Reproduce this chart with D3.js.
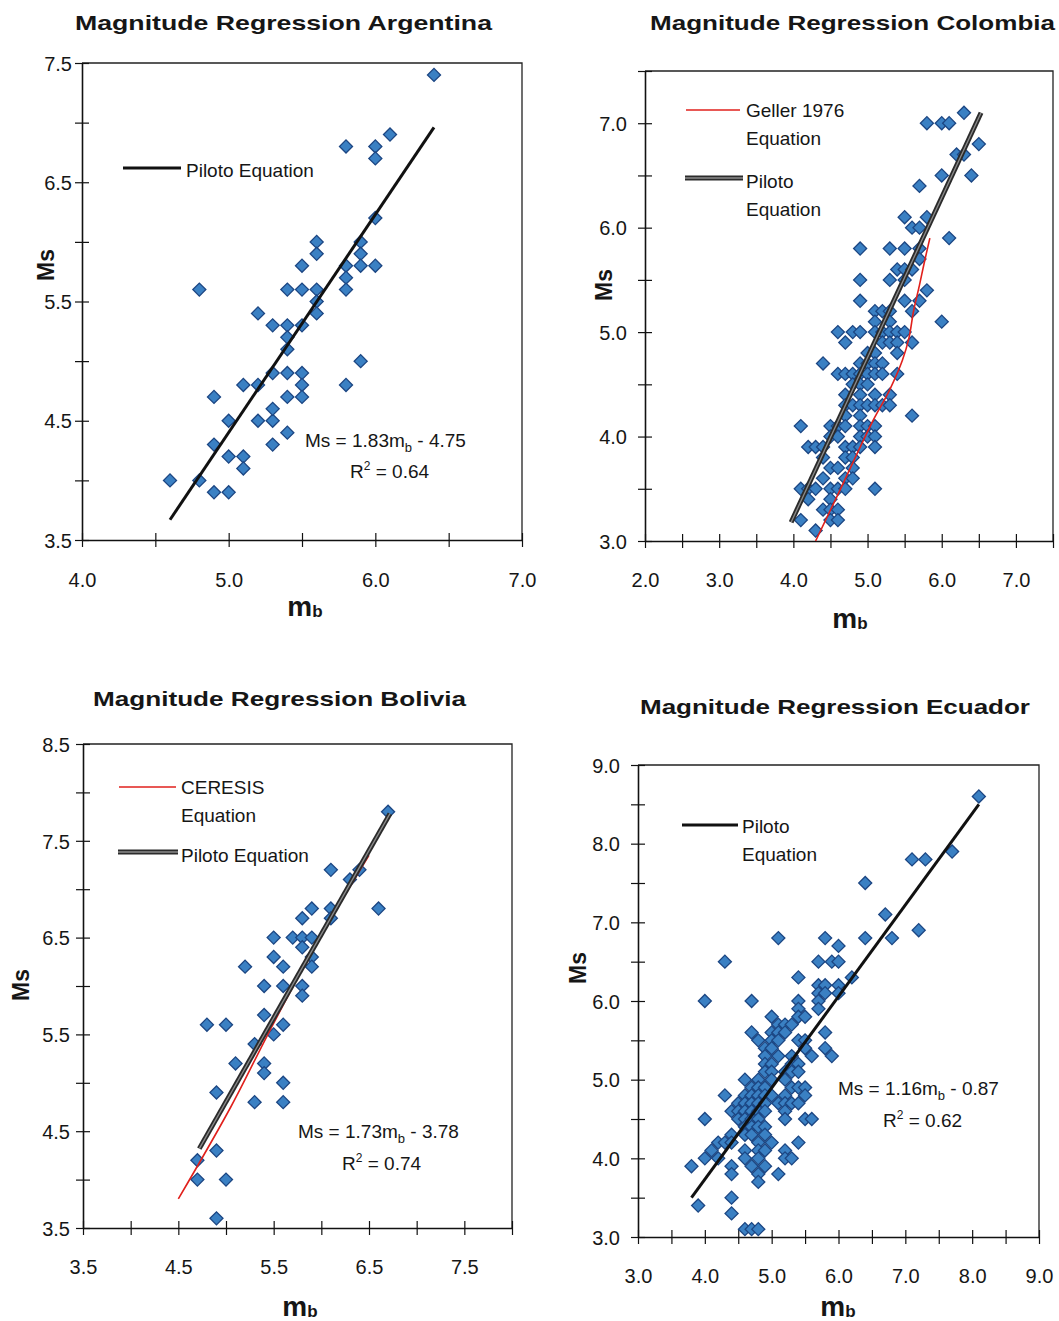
<!DOCTYPE html>
<html>
<head>
<meta charset="utf-8">
<script src="https://cdn.jsdelivr.net/npm/d3@7"></script>
<style>
  body { margin: 0; background: #fff; }
  svg { display: block; }
  text { font-family: "Liberation Sans", Arial, sans-serif; fill: #161616; }
</style>
</head>
<body>
<svg id="chart" width="1059" height="1321"></svg>
<script>
// ---- data (mb, Ms) ----
const argentinaPoints = [
  [6.4,7.4],[6.1,6.9],[5.8,6.8],[6.0,6.8],[6.0,6.7],[6.0,6.2],[5.6,6.0],[5.6,5.9],
  [5.9,6.0],[5.9,5.9],[5.9,5.8],[6.0,5.8],[5.8,5.8],[5.8,5.7],[5.8,5.6],[5.5,5.8],
  [5.4,5.6],[5.5,5.6],[5.6,5.6],[5.6,5.5],[5.6,5.4],[4.8,5.6],[5.2,5.4],[5.3,5.3],
  [5.4,5.3],[5.5,5.3],[5.4,5.2],[5.4,5.1],[5.9,5.0],[5.3,4.9],[5.4,4.9],[5.5,4.9],
  [5.5,4.8],[5.5,4.7],[5.4,4.7],[5.8,4.8],[5.1,4.8],[5.2,4.8],[4.9,4.7],[5.0,4.5],
  [5.2,4.5],[5.3,4.5],[5.3,4.6],[5.4,4.4],[5.3,4.3],[4.9,4.3],[5.0,4.2],[5.1,4.2],
  [5.1,4.1],[4.6,4.0],[4.8,4.0],[4.9,3.9],[5.0,3.9]
];
const argentinaPiloto = [[4.6,3.67],[6.4,6.96]];

const colombiaPoints = [
  [6.3,7.1],[5.8,7.0],[6.0,7.0],[6.1,7.0],[6.5,6.8],[6.2,6.7],[6.3,6.7],[6.0,6.5],
  [6.4,6.5],[5.7,6.4],[5.5,6.1],[5.8,6.1],[5.6,6.0],[5.7,6.0],[6.1,5.9],[4.9,5.8],
  [5.3,5.8],[5.5,5.8],[5.7,5.8],[5.7,5.7],[5.4,5.6],[5.5,5.6],[5.6,5.6],[4.9,5.5],
  [5.3,5.5],[5.5,5.5],[5.8,5.4],[5.7,5.3],[4.9,5.3],[5.5,5.3],[5.6,5.2],[5.1,5.2],
  [5.2,5.2],[5.3,5.2],[6.0,5.1],[5.1,5.1],[5.3,5.1],[4.6,5.0],[4.8,5.0],[4.9,5.0],
  [5.1,5.0],[5.2,5.0],[5.3,5.0],[5.4,5.0],[5.5,5.0],[4.7,4.9],[5.2,4.9],[5.3,4.9],
  [5.4,4.9],[5.6,4.9],[5.0,4.8],[5.1,4.8],[5.4,4.8],[4.4,4.7],[4.9,4.7],[5.0,4.7],
  [5.1,4.7],[5.2,4.7],[4.6,4.6],[4.7,4.6],[4.8,4.6],[4.9,4.6],[5.0,4.6],[5.1,4.6],
  [5.2,4.6],[5.4,4.6],[4.8,4.5],[4.9,4.5],[5.0,4.5],[4.7,4.4],[4.9,4.4],[5.1,4.4],
  [5.3,4.4],[4.7,4.3],[4.8,4.3],[4.9,4.3],[5.0,4.3],[5.1,4.3],[5.2,4.3],[5.3,4.3],
  [5.6,4.2],[4.7,4.2],[4.9,4.2],[4.1,4.1],[4.5,4.1],[4.6,4.1],[4.7,4.1],[4.9,4.1],
  [5.0,4.1],[5.1,4.1],[4.5,4.0],[4.6,4.0],[4.9,4.0],[5.0,4.0],[5.1,4.0],[4.2,3.9],
  [4.3,3.9],[4.4,3.9],[4.7,3.9],[4.8,3.9],[4.9,3.9],[5.1,3.9],[4.4,3.8],[4.7,3.8],
  [4.8,3.8],[4.5,3.7],[4.6,3.7],[4.8,3.7],[4.4,3.6],[4.7,3.6],[4.8,3.6],[4.1,3.5],
  [4.2,3.5],[4.3,3.5],[4.5,3.5],[4.6,3.5],[4.7,3.5],[5.1,3.5],[4.2,3.4],[4.5,3.4],
  [4.4,3.3],[4.5,3.3],[4.6,3.3],[4.1,3.2],[4.5,3.2],[4.6,3.2],[4.3,3.1]
];
const colombiaPiloto = [[3.97,3.18],[6.53,7.1]];
const colombiaGeller = [
  [4.3,3.0],[4.67,3.55],[5.05,4.12],[5.3,4.45],[5.47,4.73],[5.56,4.95],
  [5.62,5.2],[5.7,5.45],[5.76,5.65],[5.84,5.9]
];

const boliviaPoints = [
  [6.7,7.8],[6.1,7.2],[6.3,7.1],[6.4,7.2],[6.6,6.8],[5.9,6.8],[6.1,6.8],[6.1,6.7],
  [5.8,6.7],[5.5,6.5],[5.7,6.5],[5.8,6.5],[5.9,6.5],[5.8,6.4],[5.5,6.3],[5.9,6.3],
  [5.6,6.2],[5.9,6.2],[5.2,6.2],[5.4,6.0],[5.6,6.0],[5.8,6.0],[5.8,5.9],[5.4,5.7],
  [5.5,5.5],[5.6,5.6],[4.8,5.6],[5.0,5.6],[5.3,5.4],[5.1,5.2],[5.4,5.2],[5.4,5.1],
  [5.6,5.0],[4.9,4.9],[5.3,4.8],[5.6,4.8],[4.9,4.3],[4.7,4.2],[4.7,4.0],[5.0,4.0],
  [4.9,3.6]
];
const boliviaPiloto = [[4.72,4.32],[6.72,7.78]];
const boliviaCeresis = [[4.5,3.8],[5.05,4.75],[5.46,5.54],[5.95,6.44],[6.5,7.35]];

const ecuadorPoints = [
  [8.1,8.6],[7.7,7.9],[7.1,7.8],[7.3,7.8],[6.4,7.5],[6.7,7.1],[7.2,6.9],[5.1,6.8],
  [5.8,6.8],[6.4,6.8],[6.8,6.8],[6.0,6.7],[4.3,6.5],[5.7,6.5],[5.9,6.5],[6.0,6.5],
  [5.4,6.3],[6.2,6.3],[5.7,6.2],[5.8,6.2],[6.0,6.2],[5.7,6.1],[5.8,6.1],[6.0,6.1],
  [4.0,6.0],[4.7,6.0],[5.4,6.0],[5.7,6.0],[5.4,5.9],[5.7,5.9],[5.0,5.8],[5.4,5.8],
  [5.5,5.8],[5.1,5.7],[5.2,5.7],[5.3,5.7],[4.7,5.6],[5.0,5.6],[5.1,5.6],[5.2,5.6],
  [5.8,5.6],[4.8,5.5],[5.0,5.5],[5.1,5.5],[5.4,5.5],[5.5,5.5],[4.9,5.4],[5.0,5.4],
  [5.5,5.4],[5.8,5.4],[4.9,5.3],[5.1,5.3],[5.3,5.3],[5.6,5.3],[5.9,5.3],[4.9,5.2],
  [5.0,5.2],[5.3,5.2],[5.4,5.2],[4.9,5.1],[5.0,5.1],[5.2,5.1],[5.3,5.1],[5.4,5.1],
  [4.6,5.0],[4.8,5.0],[5.0,5.0],[5.2,5.0],[4.7,4.9],[4.8,4.9],[4.9,4.9],[5.3,4.9],
  [5.4,4.9],[5.5,4.9],[4.3,4.8],[4.6,4.8],[4.7,4.8],[4.8,4.8],[4.9,4.8],[5.0,4.8],
  [5.2,4.8],[5.5,4.8],[4.5,4.7],[4.6,4.7],[4.7,4.7],[4.8,4.7],[4.9,4.7],[5.1,4.7],
  [5.2,4.7],[5.3,4.7],[5.4,4.7],[4.4,4.6],[4.5,4.6],[4.6,4.6],[4.7,4.6],[4.8,4.6],
  [4.9,4.6],[5.2,4.6],[4.0,4.5],[4.5,4.5],[4.6,4.5],[4.7,4.5],[4.8,4.5],[5.2,4.5],
  [5.5,4.5],[5.6,4.5],[4.6,4.4],[4.7,4.4],[4.8,4.4],[4.9,4.4],[4.4,4.3],[4.6,4.3],
  [4.7,4.3],[4.9,4.3],[4.2,4.2],[4.3,4.2],[4.4,4.2],[4.8,4.2],[5.0,4.2],[5.4,4.2],
  [4.1,4.1],[4.6,4.1],[4.8,4.1],[4.9,4.1],[5.2,4.1],[4.0,4.0],[4.2,4.0],[4.6,4.0],
  [4.8,4.0],[5.2,4.0],[5.3,4.0],[3.8,3.9],[4.4,3.9],[4.7,3.9],[4.9,3.9],[4.4,3.8],
  [4.8,3.8],[5.1,3.8],[4.8,3.7],[4.4,3.5],[3.9,3.4],[4.4,3.3],[4.6,3.1],[4.7,3.1],
  [4.8,3.1]
];
const ecuadorPiloto = [[3.8,3.5],[8.1,8.5]];

// tick labels
const argentinaXLabels = [4, 5, 6, 7];
const argentinaYLabels = [3.5, 4.5, 5.5, 6.5, 7.5];
const colombiaXLabels = [2, 3, 4, 5, 6, 7];
const colombiaYLabels = [3, 4, 5, 6, 7];
const boliviaXLabels = [3.5, 4.5, 5.5, 6.5, 7.5];
const boliviaYLabels = [3.5, 4.5, 5.5, 6.5, 7.5, 8.5];
const ecuadorXLabels = [3, 4, 5, 6, 7, 8, 9];
const ecuadorYLabels = [3, 4, 5, 6, 7, 8, 9];

const svg = d3.select('#chart');
const fmt = d3.format('.1f');
const diamond = d3.symbol().type(d3.symbolSquare).size(85);

const panels = [
  {
    title: 'Magnitude Regression  Argentina', titleX: 75, titleW: 417, titleY: 30,
    left: 82, right: 522, top: 63, bottom: 540,
    xDomain: [4, 7], yDomain: [3.5, 7.5],
    xLabels: argentinaXLabels, yLabels: argentinaYLabels, yLabelGap: 10, xLabelY: 587,
    msPos: [46, 265], mbPos: [305, 616],
    points: argentinaPoints,
    lines: [{ pts: argentinaPiloto, style: 'black' }],
    legend: [{ x1: 123, x2: 181, y: 168, style: 'black', text: ['Piloto Equation'], tx: 186, ty: 177 }],
    eq: { x: 305, y: 447, a: 'Ms = 1.83m', b: '- 4.75', r: '0.64', rx: 350, ry: 478 }
  },
  {
    title: 'Magnitude Regression Colombia', titleX: 650, titleW: 405, titleY: 30,
    left: 645, right: 1053, top: 71, bottom: 541,
    xDomain: [2, 7.5], yDomain: [3, 7.5],
    xLabels: colombiaXLabels, yLabels: colombiaYLabels, yLabelGap: 18, xLabelY: 587,
    msPos: [604, 285], mbPos: [850, 628],
    points: colombiaPoints,
    lines: [{ pts: colombiaGeller, style: 'red' }, { pts: colombiaPiloto, style: 'double' }],
    legend: [
      { x1: 686, x2: 740, y: 110, style: 'red', text: ['Geller 1976', 'Equation'], tx: 746, ty: 117 },
      { x1: 685, x2: 743, y: 178, style: 'double', text: ['Piloto', 'Equation'], tx: 746, ty: 188 }
    ]
  },
  {
    title: 'Magnitude Regression Bolivia', titleX: 93, titleW: 373, titleY: 706,
    left: 83, right: 512, top: 744, bottom: 1228,
    xDomain: [3.5, 8], yDomain: [3.5, 8.5],
    xLabels: boliviaXLabels, yLabels: boliviaYLabels, yLabelGap: 13, xLabelY: 1274,
    msPos: [21, 985], mbPos: [300, 1316],
    points: boliviaPoints,
    lines: [{ pts: boliviaCeresis, style: 'red' }, { pts: boliviaPiloto, style: 'double' }],
    legend: [
      { x1: 119, x2: 176, y: 787, style: 'red', text: ['CERESIS', 'Equation'], tx: 181, ty: 794 },
      { x1: 118, x2: 178, y: 852, style: 'double', text: ['Piloto Equation'], tx: 181, ty: 862 }
    ],
    eq: { x: 298, y: 1138, a: 'Ms = 1.73m', b: '- 3.78', r: '0.74', rx: 342, ry: 1170 }
  },
  {
    title: 'Magnitude Regression Ecuador', titleX: 640, titleW: 390, titleY: 714,
    left: 638, right: 1039, top: 765, bottom: 1237,
    xDomain: [3, 9], yDomain: [3, 9],
    xLabels: ecuadorXLabels, yLabels: ecuadorYLabels, yLabelGap: 18, xLabelY: 1283,
    msPos: [578, 968], mbPos: [838, 1316],
    points: ecuadorPoints,
    lines: [{ pts: ecuadorPiloto, style: 'black' }],
    legend: [{ x1: 682, x2: 738, y: 825, style: 'black', text: ['Piloto', 'Equation'], tx: 742, ty: 833 }],
    eq: { x: 838, y: 1095, a: 'Ms = 1.16m', b: '- 0.87', r: '0.62', rx: 883, ry: 1127 }
  }
];

function strokeLine(g, d, style) {
  if (style === 'red') {
    g.append('path').attr('d', d).attr('fill', 'none')
      .attr('stroke', '#e0201c').attr('stroke-width', 1.6);
  } else if (style === 'double') {
    g.append('path').attr('d', d).attr('fill', 'none')
      .attr('stroke', '#2b2b2b').attr('stroke-width', 5);
    g.append('path').attr('d', d).attr('fill', 'none')
      .attr('stroke', '#8c8c8c').attr('stroke-width', 1.3);
  } else {
    g.append('path').attr('d', d).attr('fill', 'none')
      .attr('stroke', '#111').attr('stroke-width', 3);
  }
}

function hasLabel(list, v) {
  return list.some((l) => Math.abs(l - v) < 1e-6);
}

function drawPanel(p) {
  const x = d3.scaleLinear().domain(p.xDomain).range([p.left, p.right]);
  const y = d3.scaleLinear().domain(p.yDomain).range([p.bottom, p.top]);
  const g = svg.append('g');

  // title
  g.append('text')
    .attr('x', p.titleX).attr('y', p.titleY)
    .attr('textLength', p.titleW).attr('lengthAdjust', 'spacingAndGlyphs')
    .style('font-size', '21px').style('font-weight', 'bold')
    .text(p.title);

  // frame (top and right)
  g.append('path')
    .attr('d', `M${p.left},${p.top}H${p.right}V${p.bottom}`)
    .attr('fill', 'none').attr('stroke', '#222').attr('stroke-width', 1.3);

  // x axis
  const xTicks = d3.range(p.xDomain[0], p.xDomain[1] + 0.01, 0.5);
  const xAxis = g.append('g')
    .attr('transform', `translate(0,${p.bottom})`)
    .call(d3.axisBottom(x).tickValues(xTicks).tickSizeOuter(0)
      .tickFormat((d) => (hasLabel(p.xLabels, d) ? fmt(d) : '')));
  xAxis.select('.domain').attr('stroke', '#111').attr('stroke-width', 1.6);
  xAxis.selectAll('.tick line').attr('y1', -7).attr('y2', 7).attr('stroke', '#111').attr('stroke-width', 1.2);
  xAxis.selectAll('.tick text')
    .attr('y', p.xLabelY - p.bottom).attr('dy', null)
    .style('font-size', '20px').style('font-family', '"Liberation Sans", Arial, sans-serif')
    .attr('fill', '#161616');

  // y axis
  const yTicks = d3.range(p.yDomain[0], p.yDomain[1] + 0.01, 0.5);
  const yAxis = g.append('g')
    .attr('transform', `translate(${p.left},0)`)
    .call(d3.axisLeft(y).tickValues(yTicks).tickSizeOuter(0)
      .tickFormat((d) => (hasLabel(p.yLabels, d) ? fmt(d) : '')));
  yAxis.select('.domain').attr('stroke', '#111').attr('stroke-width', 1.6);
  yAxis.selectAll('.tick line').attr('x1', -7).attr('x2', 7).attr('stroke', '#111').attr('stroke-width', 1.2);
  yAxis.selectAll('.tick text')
    .attr('x', -p.yLabelGap).attr('dy', '0.36em')
    .style('font-size', '20px').style('font-family', '"Liberation Sans", Arial, sans-serif')
    .attr('fill', '#161616');

  // axis titles
  g.append('text')
    .attr('transform', `translate(${p.msPos[0]},${p.msPos[1]}) rotate(-90)`)
    .attr('text-anchor', 'middle').attr('dy', '0.36em')
    .style('font-size', '23px').style('font-weight', 'bold')
    .text('Ms');
  const mb = g.append('text')
    .attr('x', p.mbPos[0]).attr('y', p.mbPos[1])
    .attr('text-anchor', 'middle')
    .style('font-weight', 'bold');
  mb.append('tspan').style('font-size', '28px').text('m');
  mb.append('tspan').style('font-size', '17px').attr('dy', 1).text('b');

  // points
  g.append('g').selectAll('path')
    .data(p.points)
    .enter()
    .append('path')
    .attr('d', diamond)
    .attr('transform', (d) => `translate(${x(d[0])},${y(d[1])}) rotate(45)`)
    .attr('fill', '#3a80c3')
    .attr('stroke', '#1c4683')
    .attr('stroke-width', 1.3);

  // regression / reference lines
  const line = d3.line().x((d) => x(d[0])).y((d) => y(d[1])).curve(d3.curveCatmullRom);
  p.lines.forEach((l) => strokeLine(g, line(l.pts), l.style));

  // legend
  p.legend.forEach((lg) => {
    strokeLine(g, `M${lg.x1},${lg.y}H${lg.x2}`, lg.style);
    lg.text.forEach((t, i) => {
      g.append('text')
        .attr('x', lg.tx).attr('y', lg.ty + i * 28)
        .style('font-size', '19px')
        .text(t);
    });
  });

  // regression equation
  if (p.eq) {
    const t = g.append('text').attr('x', p.eq.x).attr('y', p.eq.y).style('font-size', '19px');
    t.append('tspan').text(p.eq.a);
    t.append('tspan').attr('dy', 5).style('font-size', '13px').text('b');
    t.append('tspan').attr('dy', -5).text(' ' + p.eq.b);
    const r = g.append('text').attr('x', p.eq.rx).attr('y', p.eq.ry).style('font-size', '19px');
    r.append('tspan').text('R');
    r.append('tspan').attr('dy', -8).style('font-size', '12px').text('2');
    r.append('tspan').attr('dy', 8).text(' = ' + p.eq.r);
  }
}

panels.forEach(drawPanel);
</script>
</body>
</html>
